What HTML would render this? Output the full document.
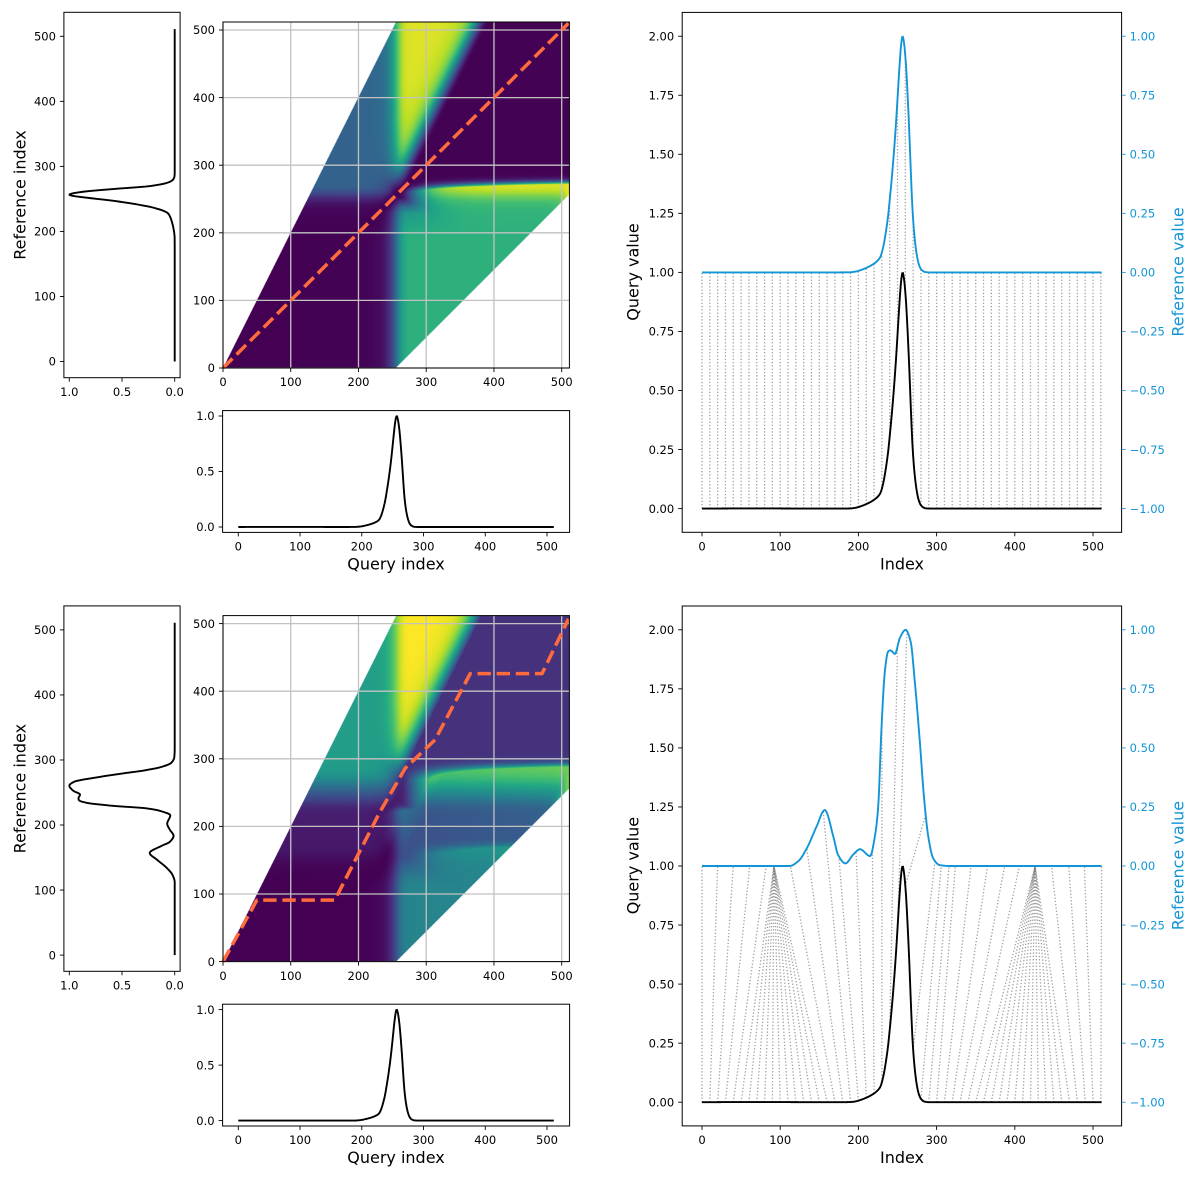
<!DOCTYPE html>
<html lang="en">
<head>
<meta charset="utf-8">
<title>DTW alignment figure</title>
<style>
html,body{margin:0;padding:0;background:#fff;}
#figure{position:relative;width:1200px;height:1179px;overflow:hidden;background:#fff;}
#overlay{position:absolute;left:0;top:0;width:1200px;height:1179px;}
canvas{position:absolute;width:346.4px;height:346px;}
text{font-family:"DejaVu Sans","Liberation Sans",sans-serif;}
.tick{font-size:11.5px;fill:#000;}
.title{font-size:16px;fill:#000;}
.blue{fill:#1295d6;}
</style>
</head>
<body>
<div id="figure">
<canvas id="heat-top" width="512" height="512" style="left:223px;top:22px"></canvas>
<canvas id="heat-bottom" width="512" height="512" style="left:223px;top:615.6px"></canvas>
<svg id="overlay" viewBox="0 0 1200 1179" xmlns="http://www.w3.org/2000/svg">
  <g id="marks"></g>
  <text class="title" transform="translate(25.5,195) rotate(-90)" text-anchor="middle">Reference index</text>
  <text class="title" x="396" y="569.5" text-anchor="middle">Query index</text>
  <text class="title" transform="translate(638.5,272) rotate(-90)" text-anchor="middle">Query value</text>
  <text class="title" x="902" y="569.5" text-anchor="middle">Index</text>
  <text class="title blue" transform="translate(1183.5,272) rotate(-90)" text-anchor="middle">Reference value</text>
  <text class="title" transform="translate(25.5,788.6) rotate(-90)" text-anchor="middle">Reference index</text>
  <text class="title" x="396" y="1163" text-anchor="middle">Query index</text>
  <text class="title" transform="translate(638.5,865.6) rotate(-90)" text-anchor="middle">Query value</text>
  <text class="title" x="902" y="1163" text-anchor="middle">Index</text>
  <text class="title blue" transform="translate(1183.5,865.6) rotate(-90)" text-anchor="middle">Reference value</text>
</svg>
</div>
<script>
// ---- series values ----
const queryIndex = [0,60,170,189,197,204,212,219,224,228,231.7,236,238,240,242.3,244.5,246.8,249,251,253,255,256.5,258,260.7,263,265,267,269,271.5,274.4,277,280,285,291,320,400,511];
const queryValue = [0,0.0007,0,0.0005,0.004,0.011,0.022,0.035,0.048,0.065,0.107,0.19,0.24,0.305,0.385,0.47,0.57,0.68,0.79,0.895,0.975,1,0.98,0.885,0.745,0.6,0.43,0.277,0.16,0.079,0.037,0.014,0.002,0,0,0,0];

const refTopIndex = [0,170,189,197,204,212,219,224,228,231.7,236,238,240,242.3,244.5,246.8,249,251,253,255,256.5,258,260.7,263,265,267,269,271.5,274.4,277,280,285,291,320,400,511];
const refTopValue = [0,0,0.0005,0.004,0.011,0.022,0.035,0.048,0.065,0.107,0.19,0.24,0.305,0.385,0.47,0.57,0.68,0.79,0.895,0.975,1,0.98,0.885,0.745,0.6,0.43,0.277,0.16,0.079,0.037,0.014,0.002,0,0,0,0];

const refBottomIndex = [0,60,112,123,134,146.5,157,168,174,183.5,193,202,215,221,225.3,229.6,234,238,241,246.7,253,260.4,266.8,272.3,278.7,283.8,289.4,295.7,304,317,400,511];
const refBottomValue = [0,0,0,0.02,0.075,0.167,0.237,0.124,0.047,0.011,0.047,0.071,0.042,0.124,0.25,0.59,0.83,0.908,0.913,0.898,0.965,1,0.95,0.774,0.52,0.294,0.124,0.032,0.004,0,0,0];

// ---- warping paths (query index, reference index) ----
const pathTopQuery = [0,510];
const pathTopRef = [0,510];
const pathBottomQuery = [0,50,165,232,269,313,365,471,510];
const pathBottomRef = [0,91,91,222,286,328,426,426,507];

// ---- dotted connections ----
const linkQuery = [0,10,20,30,40,50,60,70,80,90,100,110,120,130,140,150,160,170,180,190,200,210,220,230,240,250,260,270,280,290,300,310,320,330,340,350,360,370,380,390,400,410,420,430,440,450,460,470,480,490,500,510];
const linkRefTop = [0,10,20,30,40,50,60,70,80,90,100,110,120,130,140,150,160,170,180,190,200,210,220,230,240,250,260,270,280,290,300,310,320,330,340,350,360,370,380,390,400,410,420,430,440,450,460,470,480,490,500,510];
const linkRefBottom = [0,20,40,61,82,92,92,92,92,92,92,92,92,92,92,92,92,113,134,155,175,197,218,230,250,262,286,298,306,316,324,344,365,387,406,426,426,426,426,426,426,426,426,426,426,426,426,426,447,469,489,511];

// ---- tick labels ----
const indexTicks = [0,100,200,300,400,500];
const unitTicks = [0,0.5,1];
const unitLabels = ["0.0","0.5","1.0"];
const queryValueTicks = [0,0.25,0.5,0.75,1,1.25,1.5,1.75,2];
const queryValueLabels = ["0.00","0.25","0.50","0.75","1.00","1.25","1.50","1.75","2.00"];
const refValueTicks = [-1,-0.75,-0.5,-0.25,0,0.25,0.5,0.75,1];
const refValueLabels = ["\u22121.00","\u22120.75","\u22120.50","\u22120.25","0.00","0.25","0.50","0.75","1.00"];

// ---- colormap stops ----
const viridisStops = ["#440154","#482475","#414487","#355f8d","#2a788e","#21918c","#22a884","#44bf70","#7ad151","#bddf26","#fde725"];

const NS = "http://www.w3.org/2000/svg";
const marks = document.getElementById("marks");

function mk(tag, attrs, name, parent) {
  const el = document.createElementNS(NS, tag);
  for (const k in attrs) el.setAttribute(k, attrs[k]);
  
  
  (parent || marks).appendChild(el);
  return el;
}
function scale(d0, d1, r0, r1) {
  return v => r0 + (v - d0) * (r1 - r0) / (d1 - d0);
}
// monotone cubic evaluation so that the curve is smooth through the read samples
function sampler(xs, ys) {
  const n = xs.length, h = [], s = [], m = new Array(n).fill(0);
  for (let i = 0; i < n - 1; i++) { h[i] = xs[i + 1] - xs[i]; s[i] = (ys[i + 1] - ys[i]) / h[i]; }
  m[0] = s[0]; m[n - 1] = s[n - 2];
  for (let i = 1; i < n - 1; i++) {
    if (s[i - 1] * s[i] <= 0) m[i] = 0;
    else {
      const w1 = 2 * h[i] + h[i - 1], w2 = h[i] + 2 * h[i - 1];
      m[i] = (w1 + w2) / (w1 / s[i - 1] + w2 / s[i]);
    }
  }
  return x => {
    let i = 0;
    while (i < n - 2 && x > xs[i + 1]) i++;
    const t = (x - xs[i]) / h[i], t2 = t * t, t3 = t2 * t;
    return (2 * t3 - 3 * t2 + 1) * ys[i] + (t3 - 2 * t2 + t) * h[i] * m[i] + (-2 * t3 + 3 * t2) * ys[i + 1] + (t3 - t2) * h[i] * m[i + 1];
  };
}
function dense(fn) {
  const out = [];
  for (let i = 0; i < 512; i++) out.push(fn(i));
  return out;
}
function linePath(points) {
  return "M" + points.map(p => p[0].toFixed(2) + " " + p[1].toFixed(2)).join("L");
}
function hexRgb(h) {
  return [parseInt(h.slice(1, 3), 16), parseInt(h.slice(3, 5), 16), parseInt(h.slice(5, 7), 16)];
}
function viridis(v) {
  const p = Math.max(0, Math.min(1, v)) * (viridisStops.length - 1);
  const i = Math.min(viridisStops.length - 2, Math.floor(p)), f = p - i;
  const a = hexRgb(viridisStops[i]), b = hexRgb(viridisStops[i + 1]);
  return [a[0] + (b[0] - a[0]) * f, a[1] + (b[1] - a[1]) * f, a[2] + (b[2] - a[2]) * f];
}

// accumulated-cost heatmap derived from the two series
function drawHeat(canvasId, q, r) {
  const N = 512, band = 255;
  const D = new Float64Array(N * N).fill(Infinity);
  D[0] = Math.abs(q[0] - r[0]);
  let max = D[0];
  for (let i = 1; i < N; i++) {
    for (let j = Math.max(0, i - band); j < N; j++) {
      let best = D[(i - 1) * N + j];
      if (j >= 1) best = Math.min(best, D[(i - 1) * N + j - 1]);
      if (j >= 2) best = Math.min(best, D[(i - 1) * N + j - 2]);
      if (best === Infinity) continue;
      const v = best + Math.abs(q[i] - r[j]);
      D[i * N + j] = v;
      if (v > max) max = v;
    }
  }
  const ctx = document.getElementById(canvasId).getContext("2d");
  const img = ctx.createImageData(N, N);
  for (let i = 0; i < N; i++) {
    for (let j = 0; j < N; j++) {
      const v = D[i * N + j];
      if (v === Infinity) continue;
      const c = viridis(v / max), o = ((N - 1 - j) * N + i) * 4;
      img.data[o] = c[0]; img.data[o + 1] = c[1]; img.data[o + 2] = c[2]; img.data[o + 3] = 255;
    }
  }
  ctx.putImageData(img, 0, 0);
}

function frame(x0, y0, x1, y1, name, g) {
  mk("rect", {x: x0, y: y0, width: x1 - x0, height: y1 - y0, fill: "none", stroke: "#000", "stroke-width": 1}, name, g);
}
function xTicks(vals, labels, sx, yBottom, g, prefix) {
  vals.forEach((v, i) => {
    const x = sx(v);
    mk("line", {x1: x, x2: x, y1: yBottom, y2: yBottom + 4, stroke: "#000", "stroke-width": 0.9}, prefix + "-tick", g);
    const t = mk("text", {x: x, y: yBottom + 18.2, "text-anchor": "middle", class: "tick"}, prefix + "-tick-label", g);
    t.textContent = labels[i];
  });
}
function yTicks(vals, labels, sy, xEdge, dir, color, g, prefix) {
  vals.forEach((v, i) => {
    const y = sy(v);
    mk("line", {x1: xEdge, x2: xEdge + dir * 4, y1: y, y2: y, stroke: color, "stroke-width": 0.9}, prefix + "-tick", g);
    const attrs = {x: xEdge + dir * 8, y: y + 4.2, "text-anchor": dir < 0 ? "end" : "start", class: "tick"};
    if (color !== "#000") attrs.style = "fill:" + color;
    const t = mk("text", attrs, prefix + "-tick-label", g);
    t.textContent = labels[i];
  });
}

function drawRow(dy, label, qi, qv, ri, rv, pq, pr, lq, lr, canvasId) {
  const q = dense(sampler(qi, qv)), r = dense(sampler(ri, rv));
  drawHeat(canvasId, q, r);
  const indexLabels = indexTicks.map(String);

  // reference side panel
  const gL = mk("g", {}, "reference-panel-" + label);
  const lx = scale(0, 1, 174.7, 69.3), ly = scale(0, 500, 361.5 + dy, 36.3 + dy);
  mk("path", {d: linePath(r.map((v, i) => [lx(v), ly(i)])), fill: "none", stroke: "#000", "stroke-width": 1.9}, "reference-curve", gL);
  frame(63.9, 12.3 + dy, 180.1, 377.7 + dy, "reference-panel-frame", gL);
  xTicks(unitTicks, unitLabels, lx, 377.7 + dy, gL, "reference-magnitude");
  yTicks(indexTicks, indexLabels, ly, 63.9, -1, "#000", gL, "reference-index");

  // heatmap panel overlay
  const gH = mk("g", {}, "heatmap-panel-" + label);
  const hx = scale(0, 500, 223, 561.7), hyBottom = 368 + dy, hy = scale(0, 500, hyBottom, 30 + dy);
  indexTicks.forEach(v => {
    mk("line", {x1: hx(v), x2: hx(v), y1: 22 + dy, y2: hyBottom, stroke: "#c2c2c2", "stroke-width": 1.3}, "grid-line-vertical", gH);
    mk("line", {x1: 223, x2: 569.4, y1: hy(v), y2: hy(v), stroke: "#c2c2c2", "stroke-width": 1.3}, "grid-line-horizontal", gH);
  });
  mk("path", {d: linePath(pq.map((v, i) => [hx(v), hy(pr[i])])), fill: "none", stroke: "#ff6b3d", "stroke-width": 3.5, "stroke-dasharray": "13.4 5.74", "stroke-linejoin": "round"}, "warping-path", gH);
  frame(223, 22 + dy, 569.4, hyBottom, "heatmap-frame", gH);
  xTicks(indexTicks, indexLabels, hx, hyBottom, gH, "heatmap-x");
  yTicks(indexTicks, indexLabels, hy, 223, -1, "#000", gH, "heatmap-y");

  // query panel
  const gQ = mk("g", {}, "query-panel-" + label);
  const qx = scale(0, 500, 238.3, 547), qy = scale(0, 1, 527 + dy, 416 + dy);
  mk("path", {d: linePath(q.map((v, i) => [qx(i), qy(v)])), fill: "none", stroke: "#000", "stroke-width": 1.9}, "query-curve", gQ);
  frame(222.6, 410.6 + dy, 569.6, 532.4 + dy, "query-panel-frame", gQ);
  xTicks(indexTicks, indexLabels, qx, 532.4 + dy, gQ, "query-index");
  yTicks(unitTicks, unitLabels, qy, 222.6, -1, "#000", gQ, "query-magnitude");

  // overlay panel
  const gR = mk("g", {}, "alignment-panel-" + label);
  const rx = scale(0, 500, 702, 1093), ry = scale(0, 2, 508.6 + dy, 36.2 + dy), rr = scale(-1, 1, 508.6 + dy, 36.2 + dy);
  const fq = sampler(qi, qv), fr = sampler(ri, rv);
  lq.forEach((qIdx, i) => {
    mk("line", {x1: rx(qIdx), y1: ry(fq(qIdx)), x2: rx(lr[i]), y2: rr(fr(lr[i])), stroke: "#808080", "stroke-opacity": 0.75, "stroke-width": 1.3, "stroke-dasharray": "1.3 2"}, "alignment-link", gR);
  });
  mk("path", {d: linePath(r.map((v, i) => [rx(i), rr(v)])), fill: "none", stroke: "#1295d6", "stroke-width": 1.9}, "reference-curve-shifted", gR);
  mk("path", {d: linePath(q.map((v, i) => [rx(i), ry(v)])), fill: "none", stroke: "#000", "stroke-width": 1.9}, "query-curve-overlay", gR);
  frame(682.2, 12.4 + dy, 1121.6, 532.3 + dy, "alignment-panel-frame", gR);
  xTicks(indexTicks, indexLabels, rx, 532.3 + dy, gR, "alignment-index");
  yTicks(queryValueTicks, queryValueLabels, ry, 682.2, -1, "#000", gR, "query-value");
  yTicks(refValueTicks, refValueLabels, rr, 1121.6, 1, "#1295d6", gR, "reference-value");
}

drawRow(0, "top", queryIndex, queryValue, refTopIndex, refTopValue, pathTopQuery, pathTopRef, linkQuery, linkRefTop, "heat-top");
drawRow(593.6, "bottom", queryIndex, queryValue, refBottomIndex, refBottomValue, pathBottomQuery, pathBottomRef, linkQuery, linkRefBottom, "heat-bottom");
</script>
</body>
</html>
